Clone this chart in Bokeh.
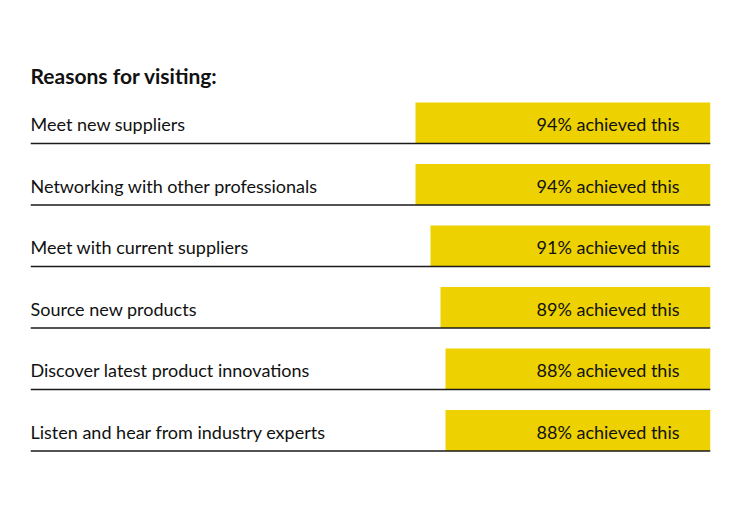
from bokeh.plotting import figure
from bokeh.models import Range1d, ColumnDataSource
from bokeh.core.properties import value
from bokeh.embed import file_html
from bokeh.resources import INLINE

title_text = "Reasons for visiting:"
reasons = [
    "Meet new suppliers",
    "Networking with other professionals",
    "Meet with current suppliers",
    "Source new products",
    "Discover latest product innovations",
    "Listen and hear from industry experts",
]
achieved = [94, 94, 91, 89, 88, 88]
suffix = "% achieved this"

BASE = 35          # value at the right edge of the bars
LEFT = 171         # value at the left edge of the row rules
FONT = "Lato"
YELLOW = "#EDD100"

rows = list(range(len(reasons)))
src = ColumnDataSource(dict(
    row=rows,
    bar_y=[r - 0.333 for r in rows],
    text_y=[r - 0.31 for r in rows],
    reason=reasons,
    achieved=achieved,
    base=[BASE] * len(rows),
    left=[LEFT] * len(rows),
    label=[f"{v}{suffix}" for v in achieved],
))

p = figure(width=740, height=518, output_backend="svg", toolbar_location=None,
           x_range=Range1d(LEFT, BASE), y_range=Range1d(6.098, -2.325),
           min_border_left=30, min_border_right=30, min_border_top=0, min_border_bottom=0)
p.axis.visible = False
p.grid.visible = False
p.outline_line_color = None
p.background_fill_color = "white"
p.border_fill_color = "white"

p.hbar(y="bar_y", height=0.667, left="achieved", right="base", source=src,
       fill_color=YELLOW, line_color=None)
p.segment(x0="left", y0="row", x1="base", y1="row", source=src,
          line_color="#1a1a1a", line_width=1.5)

p.text(x="left", y="text_y", text="reason", source=src,
       text_font=value(FONT), text_font_size="18px", text_color="#111111",
       text_align="left", text_baseline="alphabetic")
p.text(x="base", y="text_y", text="label", source=src, x_offset=-31,
       text_font=value(FONT), text_font_size="18px", text_color="#111111",
       text_align="right", text_baseline="alphabetic")
p.text(x=[LEFT], y=[-1.1], text=[title_text],
       text_font=value(FONT), text_font_size="21px", text_font_style="bold",
       text_color="#111111", text_align="left", text_baseline="alphabetic")

open("out.html", "w").write(file_html(p, INLINE))
